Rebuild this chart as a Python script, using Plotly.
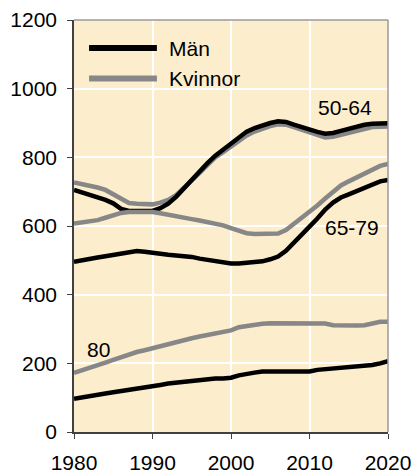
import plotly.graph_objects as go

years = list(range(1980, 2021))

men_50_64 = [705, 698, 690, 684, 676, 666, 650, 644, 643, 643, 644, 652, 665, 685, 710, 735, 758, 783, 805, 822,
             841, 858, 875, 885, 893, 900, 905, 903, 895, 887, 880, 874, 869, 871, 877, 884, 889, 895, 898, 899, 899]
women_50_64 = [727, 723, 719, 712, 705, 693, 680, 667, 665, 664, 663, 668, 676, 690, 710, 733, 755, 778, 800, 815,
               831, 848, 864, 875, 884, 891, 896, 895, 888, 880, 872, 864, 858, 860, 866, 872, 879, 885, 888, 889, 890]
women_65_79 = [607, 610, 614, 617, 624, 632, 638, 641, 642, 642, 641, 637, 632, 628, 623, 620, 616, 612, 608, 602,
               594, 585, 579, 577, 577, 577, 578, 588, 605, 622, 641, 660, 680, 700, 718, 730, 741, 752, 765, 775, 781]
men_65_79 = [496, 499, 504, 508, 512, 516, 520, 523, 527, 525, 521, 518, 516, 514, 513, 510, 505, 501, 497, 494,
             491, 491, 492, 493, 497, 503, 511, 528, 550, 574, 598, 622, 648, 668, 683, 692, 701, 711, 722, 730, 734]
women_80 = [172, 179, 185, 193, 202, 210, 218, 226, 233, 238, 244, 251, 258, 264, 268, 273, 278, 282, 286, 291,
            296, 305, 309, 312, 315, 317, 317, 317, 317, 317, 317, 317, 316, 311, 310, 310, 310, 311, 316, 321, 321]
men_80 = [97, 100, 104, 108, 112, 116, 119, 123, 126, 129, 133, 137, 141, 144, 147, 150, 152, 155, 156, 156,
          158, 165, 170, 173, 176, 176, 176, 176, 176, 176, 176, 181, 183, 184, 185, 186, 188, 190, 195, 200, 206]

x_ticks = [1980, 1990, 2000, 2010, 2020]
y_ticks = [0, 200, 400, 600, 800, 1000, 1200]
legend_names = ["Män", "Kvinnor"]
group_labels = [("50-64", 2014.5, 944), ("65-79", 2015.4, 597), ("80", 1983.1, 239)]

BLACK = "#000000"
GRAY = "#878787"
BG = "#FCEDCD"
FONT = "Liberation Sans, Arial, sans-serif"
FS = 21

fig = go.Figure()
series = [
    (women_50_64, GRAY), (men_50_64, BLACK),
    (women_65_79, GRAY), (men_65_79, BLACK),
    (women_80, GRAY), (men_80, BLACK),
]
for vals, col in series:
    fig.add_trace(go.Scatter(x=years, y=vals, mode="lines",
                             line=dict(color=col, width=4.5), showlegend=False,
                             hoverinfo="skip"))

for text, xx, yy in group_labels:
    fig.add_annotation(x=xx, y=yy, text=text, showarrow=False,
                       font=dict(family=FONT, size=FS, color="black"))

# legend drawn manually (long line samples)
leg_y = [0.932, 0.858]
leg_cols = [BLACK, GRAY]
for name, ly, col in zip(legend_names, leg_y, leg_cols):
    fig.add_shape(type="line", xref="paper", yref="paper", x0=0.048, x1=0.264,
                  y0=ly, y1=ly, line=dict(color=col, width=6))
    fig.add_annotation(xref="paper", yref="paper", x=0.304, y=ly, text=name,
                       showarrow=False, xanchor="left", yanchor="middle",
                       xshift=-2, font=dict(family=FONT, size=FS, color="black"))

# top and right frame (light gray)
fig.add_shape(type="line", xref="paper", yref="paper", x0=0, x1=1, y0=1, y1=1,
              line=dict(color="#9a9a9a", width=1.5))
fig.add_shape(type="line", xref="paper", yref="paper", x0=1, x1=1, y0=0, y1=1,
              line=dict(color="#9a9a9a", width=1.5))

fig.update_layout(
    width=414, height=473,
    margin=dict(l=74, r=26, t=20, b=41, autoexpand=False),
    paper_bgcolor="white", plot_bgcolor=BG,
    font=dict(family=FONT, size=FS, color="black"),
    showlegend=False,
)
fig.update_xaxes(range=[1980, 2020], tickvals=x_ticks, ticktext=[str(v) for v in x_ticks],
                 showgrid=True, gridcolor="white", gridwidth=1.5, automargin=False,
                 showline=True, linecolor="#404040", linewidth=1.5,
                 ticks="outside", ticklen=5, tickcolor="#404040", zeroline=False,
                 ticklabelstandoff=6)
fig.update_yaxes(range=[0, 1200], tickvals=y_ticks, ticktext=[str(v) for v in y_ticks],
                 showgrid=True, gridcolor="white", gridwidth=1.5, automargin=False,
                 showline=True, linecolor="#404040", linewidth=1.5,
                 ticks="outside", ticklen=5, tickcolor="#404040", zeroline=False,
                 ticklabelstandoff=6)

fig.write_html("out.html", config={"displayModeBar": False},
               post_script="document.body.style.margin='0';document.body.style.overflow='hidden';")
